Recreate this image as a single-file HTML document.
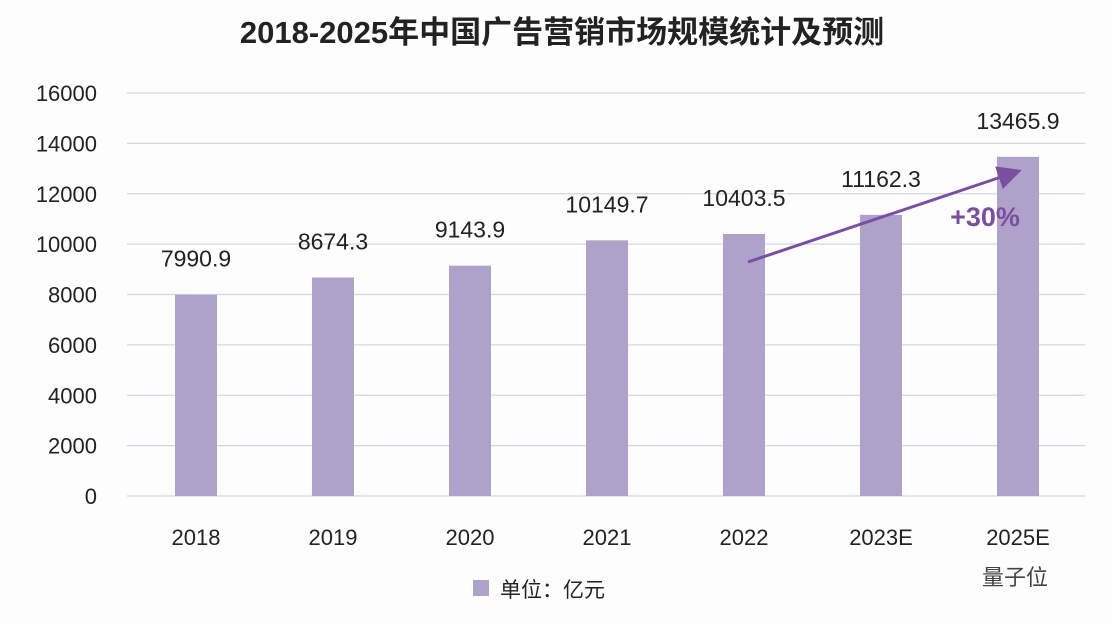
<!DOCTYPE html>
<html><head><meta charset="utf-8"><style>
body{margin:0;background:#fff;width:1112px;height:624px;overflow:hidden;font-family:"Liberation Sans","Noto Sans CJK SC",sans-serif;}
</style></head><body>
<svg width="1112" height="624" xmlns="http://www.w3.org/2000/svg">
<rect width="1112" height="624" fill="#fdfdfe"/>
<text x="562" y="43" text-anchor="middle" font-size="31" font-weight="bold" fill="#222" font-family="Liberation Sans, Noto Sans CJK SC, sans-serif">2018-2025年中国广告营销市场规模统计及预测</text>
<g id="grid"></g><g id="yt"></g><g id="bars"></g><g id="xl"></g><g id="vl"></g>
<defs><marker id="ah" markerWidth="8" markerHeight="8" refX="6" refY="4" orient="auto"><path d="M0,0 L8,4 L0,8 z" fill="#7a4fa0"/></marker></defs>
<line x1="748" y1="262" x2="1016" y2="172" stroke="#7a4fa0" stroke-width="3" marker-end="url(#ah)"/>
<text x="985" y="226" text-anchor="middle" font-size="27" font-weight="bold" fill="#7a4fa0">+30%</text>
<rect x="473" y="580" width="16" height="16" fill="#aea2cb"/>
<text x="500" y="597" font-size="21" fill="#222">单位：亿元</text>
<text x="1048" y="585" text-anchor="end" font-size="22" fill="#444">量子位</text>
</svg>
<script>
const categories=["2018","2019","2020","2021","2022","2023E","2025E"];
const values=[7990.9,8674.3,9143.9,10149.7,10403.5,11162.3,13465.9];
const valueLabels=["7990.9","8674.3","9143.9","10149.7","10403.5","11162.3","13465.9"];
const yTicks=[0,2000,4000,6000,8000,10000,12000,14000,16000];
const NS="http://www.w3.org/2000/svg";
const y=v=>496-v*(403/16000);
const x=i=>196+i*137;
function mk(t,a,p,txt){const e=document.createElementNS(NS,t);for(const k in a)e.setAttribute(k,a[k]);if(txt!==undefined)e.textContent=txt;document.getElementById(p).appendChild(e);return e;}
yTicks.forEach(v=>{
 const l=mk('line',{x1:127,x2:1085,y1:y(v),y2:y(v),stroke:'#d6d6e0','stroke-width':1.3},'grid');
 
 
 const t=mk('text',{x:97,y:y(v)+8,'text-anchor':'end','font-size':22,fill:'#222'},'yt',String(v));
 
 
});
categories.forEach((c,i)=>{
 const b=mk('rect',{x:x(i)-21,y:y(values[i]),width:42,height:496-y(values[i]),fill:'#aea2cb'},'bars');
 
 
 const t=mk('text',{x:x(i),y:545,'text-anchor':'middle','font-size':22,fill:'#222'},'xl',c);
 
 
 const v=mk('text',{x:x(i),y:y(values[i])-28,'text-anchor':'middle','font-size':23,fill:'#222'},'vl',valueLabels[i]);
 
 
});
</script>
</body></html>
